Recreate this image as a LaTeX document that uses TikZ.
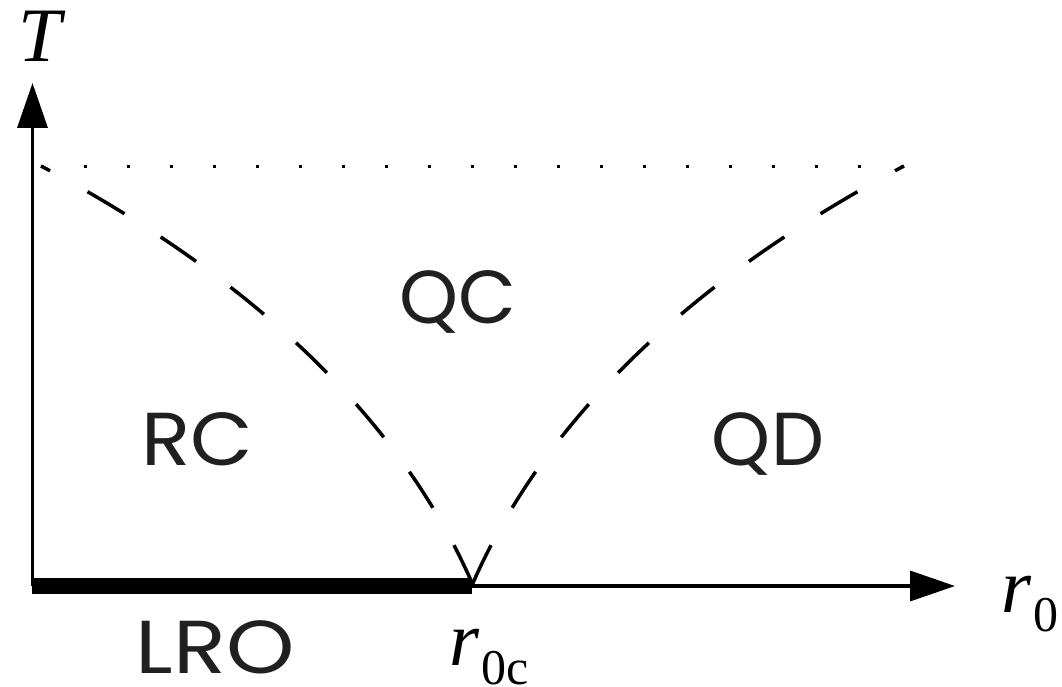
\documentclass[tikz,border=0pt]{standalone}
\usepackage{fontspec}
\setmainfont{Liberation Serif}
\newfontfamily\labfont{Poppins}
\usetikzlibrary{arrows.meta}
\definecolor{labgray}{RGB}{32,32,32}
\begin{document}
\begin{tikzpicture}[x=1pt,y=-1pt,
  axisline/.style={line width=3.5pt,-{Triangle[length=45pt,width=30pt]}},
  lrobar/.style={line width=16pt},
  crossover/.style={line width=3.5pt,dash pattern=on 43pt off 43pt},
  dotline/.style={line width=3pt,dash pattern=on 3pt off 40pt},
  region/.style={inner sep=0pt,text=labgray,font=\labfont\fontsize{75}{75}\selectfont},
  mathlab/.style={inner sep=0pt,font=\fontsize{77}{77}\selectfont\itshape}]
\useasboundingbox (0,0) rectangle (1062,687);
\coordinate (O) at (32.5,586);
\coordinate (Ttip) at (32.5,83);
\coordinate (Rtip) at (955,586);
\coordinate (V) at (472.5,584);
\coordinate (Lend) at (41,166);
\coordinate (Rend) at (904,166);
\coordinate (DotA) at (40.5,167);
\coordinate (DotB) at (905,167);
% LRO bar
\draw[lrobar] (32,586) -- (472,586);
% axes
\draw[axisline] (O) -- (Ttip);
\draw[axisline] (O) -- (Rtip);
% dotted line
\draw[dotline] (DotA) -- (DotB);
% crossover lines
\draw[crossover] (V) .. controls (382.5,378) and (191,245.5) .. (Lend);
\draw[crossover] (V) .. controls (562.5,378) and (754,245.5) .. (Rend);
% labels
\node[mathlab] (Tlab) at (40,36) {T};
\node[mathlab,anchor=base west] (r0) at (1001,612) {r\/\hspace{2pt}\raisebox{-19pt}{\upshape\fontsize{50}{50}\selectfont 0}};
\node[mathlab,anchor=base west] (r0c) at (449,665) {r\/\hspace{2pt}\raisebox{-19pt}{\upshape\fontsize{50}{50}\selectfont 0c}};
\node[region,anchor=base] (QC) at (457.5,323) {QC};
\node[region,anchor=base] (RC) at (197.5,465) {\scalebox{1.08}[1]{RC}};
\node[region,anchor=base] (QD) at (768,465) {QD};
\node[region,anchor=base] (LRO) at (215,673) {\scalebox{1.16}[1]{LRO}};
\end{tikzpicture}
\end{document}
